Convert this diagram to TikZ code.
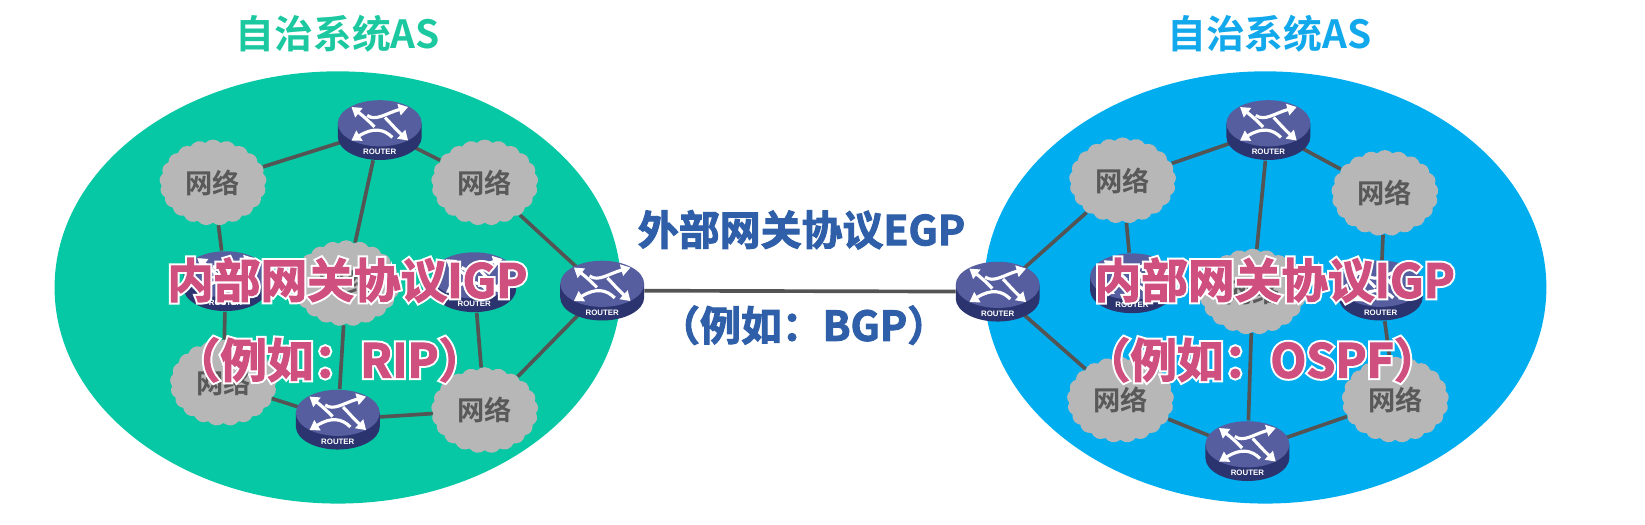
\documentclass[tikz,border=0pt]{standalone}
\usepackage{fontspec}
\usetikzlibrary{arrows.meta,backgrounds,shapes.geometric,shapes.symbols}
\setmainfont{Noto Sans CJK SC}[BoldFont={Noto Sans CJK SC Bold}]
\newfontfamily\routerfont{Liberation Sans}
\newfontfamily\heavyfont{Noto Sans CJK SC Bold}[FakeBold=2.5]
\newfontfamily\halofont{Noto Sans CJK SC Bold}[FakeBold=11]

\definecolor{asgreen}{HTML}{06C8A4}
\definecolor{asblue}{HTML}{00AEEF}
\definecolor{titlegreen}{HTML}{1CC8A0}
\definecolor{titleblue}{HTML}{12A8EC}
\definecolor{igppink}{HTML}{CF4F7F}
\definecolor{egpblue}{HTML}{2F5FA8}
\definecolor{routertop}{HTML}{565EA0}
\definecolor{routerside}{HTML}{2C3470}
\definecolor{cloudgray}{HTML}{B7B7B7}
\definecolor{linkgray}{HTML}{545454}

\tikzset{
    x=1pt, y=-1pt,
    asarea/.style={ellipse, inner sep=0pt, minimum height=412pt},
    network/.style={cloud, cloud puffs=21, cloud puff arc=95, aspect=1.25, inner sep=0pt,
        minimum width=102pt, minimum height=82pt, fill=cloudgray, text=black!65,
        font=\fontsize{26}{26}\selectfont\bfseries},
    routerbody/.style={ellipse, minimum width=80pt, minimum height=58pt, inner sep=0pt},
    link/.style={draw=linkgray, line width=3.5pt},
    routerarrow/.style={white, line width=3pt, -{Triangle[length=9pt,width=11pt]}},
    astitle/.style={font=\fontsize{37}{37}\selectfont\bfseries},
    igptext/.style={font=\fontsize{44.5}{44.5}\selectfont, text=igppink},
    egptext/.style={font=\fontsize{39}{39}\selectfont, text=egpblue},
}

\newcommand{\router}[3]{
    \node[routerbody] (#1) at (#2,#3) {};
    \begin{scope}[shift={(#1.center)}]
        \fill[routerside] (-40,-6.5) -- (-40,6.5) arc (180:0:40 and 22) -- (40,-6.5) -- cycle;
        \fill[routertop] (0,-6.5) ellipse (40 and 22);
        \draw[routerarrow] (-5,-3) .. controls (-10,-8) and (-14,-12) .. (-27,-22);
        \draw[routerarrow] (-12,-14) .. controls (-4,-8) and (6,-16) .. (27,-22);
        \draw[routerarrow] (12,7) .. controls (4,-1) and (-6,-3) .. (-27,10);
        \draw[routerarrow] (5,-12) .. controls (10,-7) and (14,-2) .. (27,10);
        \node[font=\routerfont\fontsize{7.5}{7.5}\selectfont\bfseries, text=white] (#1label) at (0,21) {ROUTER};
    \end{scope}
}
\newcommand{\halotext}[1]{\makebox[0pt][l]{\halofont\color{white}#1}{\heavyfont #1}}

\begin{document}
\begin{tikzpicture}
    \useasboundingbox (0,0) rectangle (1568,499.5);

    \node[network] (lnetA) at (203,174) {网络};
    \node[network] (lnetB) at (462,174) {网络};
    \node[network] (lnetC) at (330,270) {网络};
    \node[network] (lnetD) at (213,365) {网络};
    \node[network] (lnetE) at (462,391) {网络};
    \router{lrouterA}{362}{124}
    \router{lrouterB}{215}{268}
    \router{lrouterC}{452}{269}
    \router{lrouterD}{322}{400}
    \router{lgate}{574}{277}

    \node[network] (rnetA) at (1070,172) {网络};
    \node[network] (rnetB) at (1320,184) {网络};
    \node[network] (rnetC) at (1194,278) {网络};
    \node[network] (rnetD) at (1068,381) {网络};
    \node[network] (rnetE) at (1330,381) {网络};
    \router{rrouterA}{1209}{124}
    \router{rrouterB}{1079}{270}
    \router{rrouterC}{1316}{277}
    \router{rrouterD}{1189}{430}
    \router{rgate}{951}{278}

    \begin{pgfonlayer}{background}
        \node[asarea, fill=asgreen, minimum width=540pt] (leftas) at (322,274) {};
        \node[asarea, fill=asblue, minimum width=536pt] (rightas) at (1206,274) {};
        \draw[link] (lrouterA) -- (lnetA);
        \draw[link] (lrouterA) -- (lnetB);
        \draw[link] (lrouterA) -- (lnetC);
        \draw[link] (lnetA) -- (lrouterB);
        \draw[link] (lrouterB) -- (lnetD);
        \draw[link] (lnetD) -- (lrouterD);
        \draw[link] (lnetC) -- (lrouterD);
        \draw[link] (lrouterD) -- (lnetE);
        \draw[link] (lrouterC) -- (lnetE);
        \draw[link] (lnetB) -- (lgate);
        \draw[link] (lgate) -- (lnetE);
        \draw[link] (lgate) -- (rgate);
        \draw[link] (rrouterA) -- (rnetA);
        \draw[link] (rrouterA) -- (rnetB);
        \draw[link] (rrouterA) -- (rnetC);
        \draw[link] (rnetA) -- (rgate);
        \draw[link] (rnetA) -- (rrouterB);
        \draw[link] (rnetB) -- (rrouterC);
        \draw[link] (rrouterC) -- (rnetE);
        \draw[link] (rgate) -- (rnetD);
        \draw[link] (rnetD) -- (rrouterD);
        \draw[link] (rnetC) -- (rrouterD);
        \draw[link] (rrouterD) -- (rnetE);
    \end{pgfonlayer}

    \node[astitle, text=titlegreen] (lefttitle) at (322,32) {自治系统AS};
    \node[astitle, text=titleblue] (righttitle) at (1210,32) {自治系统AS};

    \node[igptext] (leftigp) at (331,267) {\halotext{内部网关协议IGP}};
    \node[igptext] (leftrip) at (314,343) {\halotext{（例如：RIP）}};
    \node[igptext] (rightigp) at (1215,267) {\halotext{内部网关协议IGP}};
    \node[igptext] (rightospf) at (1203,343) {\halotext{（例如：OSPF）}};

    \node[egptext] (egpname) at (764,219) {\halotext{外部网关协议EGP}};
    \node[egptext] (egpsample) at (766,310) {\halotext{（例如：BGP）}};
\end{tikzpicture}
\end{document}
